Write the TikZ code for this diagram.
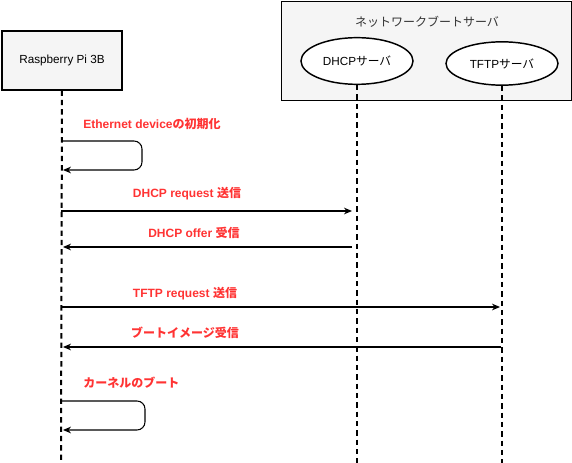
\documentclass[tikz,border=0pt]{standalone}
\usepackage{fontspec}
\setmainfont{Liberation Sans}
\newfontfamily\cjk{Noto Sans CJK JP}
\usetikzlibrary{arrows.meta,shapes.geometric}
\definecolor{lbl}{HTML}{FF3333}
\definecolor{boxfill}{HTML}{F5F5F5}
\definecolor{titlegray}{HTML}{333333}
\tikzset{
  lifeline/.style={draw=black, line width=1.5pt, dash pattern=on 4pt off 3pt},
  msg/.style={draw=black, line width=0.8pt, -{Stealth[length=6pt,width=5pt]}},
  msglbl/.style={text=lbl, font=\bfseries\fontsize{9pt}{10pt}\selectfont, inner sep=0pt},
  actor/.style={draw=black, line width=1.1pt, fill=boxfill, minimum width=90pt, minimum height=44pt, font=\fontsize{8.8pt}{10pt}\selectfont},
  srv/.style={draw=black, line width=1.1pt, fill=white, ellipse, minimum width=84pt, inner sep=0pt, font=\fontsize{8.8pt}{10pt}\selectfont},
}
\begin{document}
\begin{tikzpicture}[x=0.75pt,y=-0.75pt]
\useasboundingbox (0,0) rectangle (572,463);
% group box
\node[draw=black, line width=0.75pt, fill=boxfill, minimum width=217.5pt, minimum height=74.25pt, inner sep=0pt, anchor=north west] (grp) at (281,1) {};
\node[text=titlegray, font=\cjk\fontsize{9pt}{10pt}\selectfont] (grptitle) at (427,22) {ネットワークブートサーバ};
% actors
\node[actor] (rpi) at (62,60.5) {Raspberry Pi 3B};
\node[srv, minimum height=35pt] (dhcp) at (357,61) {DHCP{\cjk サーバ}};
\node[srv, minimum height=32.5pt] (tftp) at (502,63.5) {TFTP{\cjk サーバ}};
% lifeline ends
\coordinate (rpiE) at (61,463);
\coordinate (dhcpE) at (357,463);
\coordinate (tftpE) at (502,463);
\draw[lifeline] (rpi.south) -- (rpiE);
\draw[lifeline] (dhcp.south) -- (dhcpE);
\draw[lifeline] (tftp.south) -- (tftpE);
% message points
\coordinate (a1) at (61,141); \coordinate (a1r) at (142,141); \coordinate (a2r) at (142,170); \coordinate (a2) at (63,170);
\coordinate (b1) at (61,211); \coordinate (b2) at (352,211);
\coordinate (c1) at (352,247); \coordinate (c2) at (63,247);
\coordinate (d1) at (61,307); \coordinate (d2) at (500,307);
\coordinate (e1) at (501,347); \coordinate (e2) at (63,347);
\coordinate (f1) at (61,401); \coordinate (f1r) at (145,401); \coordinate (f2r) at (145,430); \coordinate (f2) at (63,430);
% messages
\draw[msg, rounded corners=6pt] (a1) -- (a1r) -- (a2r) -- (a2);
\node[msglbl, anchor=west] (l1) at (83,124) {Ethernet device{\cjk の初期化}};
\draw[msg] (b1) -- (b2);
\node[msglbl] (l2) at (187,194) {DHCP request {\cjk 送信}};
\draw[msg] (c1) -- (c2);
\node[msglbl] (l3) at (194,233) {DHCP offer {\cjk 受信}};
\draw[msg] (d1) -- (d2);
\node[msglbl] (l4) at (185,294) {TFTP request {\cjk 送信}};
\draw[msg] (e1) -- (e2);
\node[msglbl, font=\cjk\bfseries\fontsize{9pt}{10pt}\selectfont] (l5) at (185,333) {ブートイメージ受信};
\draw[msg, rounded corners=6pt] (f1) -- (f1r) -- (f2r) -- (f2);
\node[msglbl, anchor=west, font=\cjk\bfseries\fontsize{9pt}{10pt}\selectfont] (l6) at (83,383) {カーネルのブート};
\end{tikzpicture}
\end{document}
